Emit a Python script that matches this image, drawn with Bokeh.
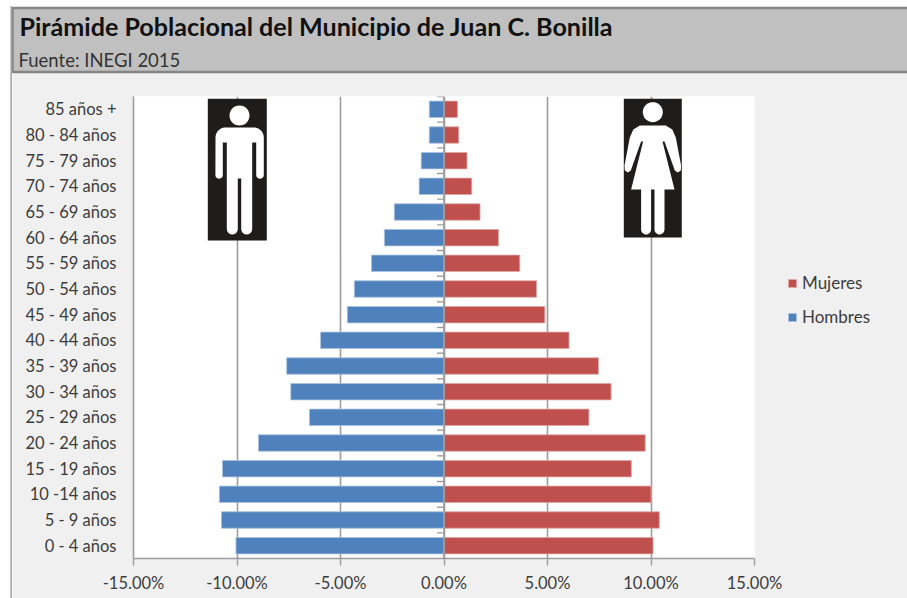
import math
from bokeh.plotting import figure
from bokeh.models import (PolyAnnotation, Label, Span, Legend, LegendItem,
                          FixedTicker, FactorRange, Range1d)
from bokeh.embed import file_html
from bokeh.resources import INLINE

TITLE = "Pirámide Poblacional del Municipio de Juan C. Bonilla"
SOURCE = "Fuente: INEGI 2015"
age_groups = ["0 - 4 años", "5 - 9 años", "10 -14 años", "15 - 19 años", "20 - 24 años", "25 - 29 años",
              "30 - 34 años", "35 - 39 años", "40 - 44 años", "45 - 49 años", "50 - 54 años", "55 - 59 años",
              "60 - 64 años", "65 - 69 años", "70 - 74 años", "75 - 79 años", "80 - 84 años", "85 años +"]
hombres = [-10.05, -10.75, -10.85, -10.70, -8.96, -6.50, -7.40, -7.60, -5.96, -4.67, -4.33, -3.50,
           -2.88, -2.40, -1.20, -1.10, -0.71, -0.71]
mujeres = [10.10, 10.40, 10.00, 9.05, 9.72, 7.00, 8.07, 7.46, 6.04, 4.87, 4.47, 3.66,
           2.63, 1.74, 1.34, 1.11, 0.71, 0.65]
x_ticks = [-15, -10, -5, 0, 5, 10, 15]
x_tick_labels = ["-15.00%", "-10.00%", "-5.00%", "0.00%", "5.00%", "10.00%", "15.00%"]

PAGE_W, PAGE_H = 907, 598
OX, OY = 12, 6           # the sheet starts here on the page; white page shows around it
W, H = PAGE_W - OX, PAGE_H - OY
FONT = "Lato"
GRID = "#9c9c9c"
TXT = "#3c3c3c"

p = figure(width=W, height=H, output_backend="svg", toolbar_location=None,
           x_range=Range1d(-15, 15), y_range=FactorRange(factors=age_groups, range_padding=0),
           frame_width=754 - 133, frame_height=558 - 96,
           min_border_left=133 - OX, min_border_right=PAGE_W - 754,
           min_border_top=96 - OY, min_border_bottom=PAGE_H - 558,
           margin=(OY, 0, 0, OX), styles={"box-shadow": "-1.6px 0 0 #a6a6a6"},
           border_fill_color="#f0f0f0", background_fill_color="#ffffff", outline_line_color=None)

# bars
blue = p.hbar(y=age_groups, left=hombres, right=0, height=0.64, fill_color="#4f81bd", line_color="#a9c1de", line_width=0.8)
red = p.hbar(y=age_groups, left=0, right=mujeres, height=0.64, fill_color="#c0504d", line_color="#dfa6a4", line_width=0.8)

# grid and axes
p.ygrid.visible = False
p.xgrid.grid_line_color = GRID
p.xgrid.grid_line_width = 1.6
p.xaxis.ticker = FixedTicker(ticks=x_ticks)
p.xaxis.major_label_overrides = dict(zip(x_ticks, x_tick_labels))
p.xaxis.axis_line_color = GRID
p.xaxis.axis_line_width = 1.6
p.xaxis.major_tick_line_color = GRID
p.xaxis.major_tick_line_width = 1.4
p.xaxis.major_tick_in = 0
p.xaxis.major_tick_out = 7
p.xaxis.minor_tick_line_color = None
p.xaxis.major_label_standoff = 7
p.xaxis.major_label_text_font = FONT
p.xaxis.major_label_text_font_size = "16.5px"
p.xaxis.major_label_text_color = TXT
p.yaxis.axis_line_color = GRID
p.yaxis.axis_line_width = 1.6
p.yaxis.major_tick_line_color = None
p.yaxis.minor_tick_line_color = None
p.yaxis.major_label_standoff = 11
p.yaxis.major_label_text_font = FONT
p.yaxis.major_label_text_font_size = "16.5px"
p.yaxis.major_label_text_color = TXT
p.add_layout(Span(location=0, dimension="height", line_color=GRID, line_width=1.6))
# category ticks on the zero line, at the boundaries between age groups
n = len(age_groups)
tick_len = 7 * 30 / (754 - 133)
p.segment(x0=[-tick_len] * n, x1=[0] * n,
          y0=[(g, 0.5) for g in age_groups], y1=[(g, 0.5) for g in age_groups],
          line_color=GRID, line_width=1.4)


def poly(xs, ys, color="#ffffff"):
    p.add_layout(PolyAnnotation(xs=[v - OX for v in xs], ys=[v - OY for v in ys], xs_units="canvas", ys_units="canvas",
                                fill_color=color, fill_alpha=1, line_color=None, level="overlay"))


def box(left, right, top, bottom, color):
    poly([left, right, right, left], [top, top, bottom, bottom], color)


def arc(cx, cy, r, a0, a1, steps=10):
    return [(cx + r * math.cos(math.radians(a0 + (a1 - a0) * i / steps)),
             cy + r * math.sin(math.radians(a0 + (a1 - a0) * i / steps))) for i in range(steps + 1)]


def head(cx, cy, r):
    pts = arc(cx, cy, r, 0, 360, 36)
    poly([a for a, _ in pts], [b for _, b in pts])


# man icon
box(207.3, 266.3, 98.3, 240, "#1f1c1c")
head(239, 115, 10)
man = []
man += arc(225, 137, 10, 180, 270)
man += arc(253.3, 137, 10, 270, 360)
man += arc(259.5, 174.5, 3.8, 0, 180)
man += [(255.7, 142), (251.7, 142)]
man += arc(246.2, 228.5, 5.5, 0, 180)
man += [(240.7, 178), (237.3, 178)]
man += arc(231.8, 228.5, 5.5, 0, 180)
man += [(226.3, 142), (222.3, 142)]
man += arc(218.6, 174.5, 3.7, 0, 180)
poly([a for a, _ in man], [b for _, b in man])

# woman icon
box(623.3, 681.3, 98.3, 237, "#1f1c1c")
cx = 652.3
head(cx, 111.7, 10)
half = [(0, 125), (13, 125), (19.5, 129), (23, 137), (28.3, 165), (28, 170), (25, 172), (22, 170),
        (11.7, 141), (9.7, 141), (21.7, 189), (11.7, 189)]
half += [(1.7 + 5 + 5 * math.cos(math.radians(a)), 229 + 5 * math.sin(math.radians(a))) for a in range(0, 181, 20)]
half += [(1.7, 189), (0, 189)]
woman = [(cx + a, b) for a, b in half] + [(cx - a, b) for a, b in reversed(half)]
poly([a for a, _ in woman], [b for _, b in woman])

# title band: the title's own background box, reaching across the sheet
p.add_layout(Label(x=0, y=39.5 - OY, x_units="canvas", y_units="canvas", text=TITLE, text_font=FONT, level="overlay",
                   text_font_style="bold", text_font_size="25.1px", text_color="#111111", text_baseline="middle",
                   background_fill_color="#c0c0c0", border_line_color="#858585", border_line_width=2.4,
                   padding=dict(left=7, right=300, top=3, bottom=31)), "above")
p.add_layout(Label(x=18 - OX, y=59 - OY, x_units="canvas", y_units="canvas", text=SOURCE, text_font=FONT, level="overlay",
                   text_font_size="18.5px", text_color="#333333", text_baseline="middle"), "above")

# legend
legend = Legend(items=[LegendItem(label="Mujeres", renderers=[red]), LegendItem(label="Hombres", renderers=[blue])],
                location=(33, 231), orientation="vertical", background_fill_alpha=0, border_line_color=None,
                glyph_width=10, glyph_height=10, spacing=13, padding=0, margin=0, label_standoff=5, level="overlay",
                label_text_font=FONT, label_text_font_size="17px", label_text_color=TXT, label_height=20)
p.add_layout(legend, "right")

open("out.html", "w").write(file_html(p, INLINE))
